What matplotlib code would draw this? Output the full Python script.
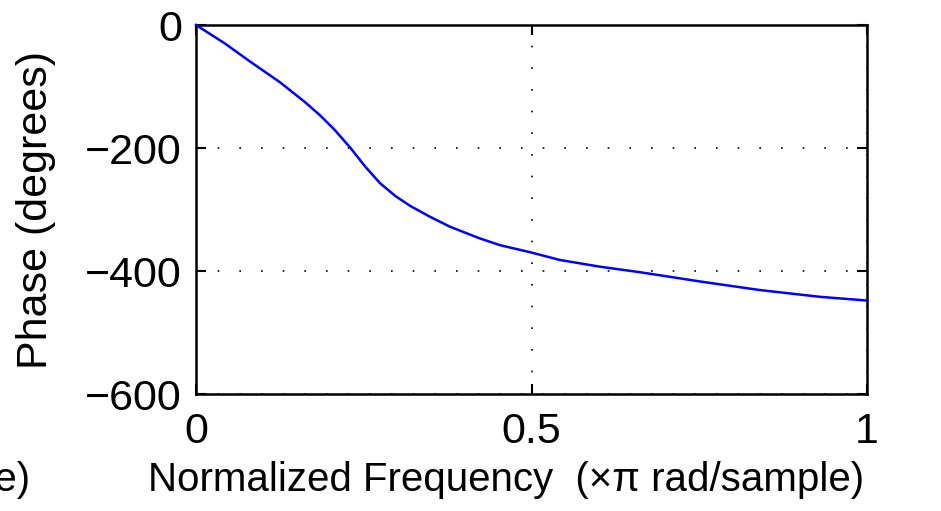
import matplotlib
matplotlib.use("Agg")
import matplotlib.pyplot as plt

plt.rcParams['font.family'] = ['Liberation Sans', 'DejaVu Sans']

# phase response
freq = [0, 0.043, 0.08, 0.125, 0.162, 0.185, 0.207, 0.2295, 0.252, 0.274,
        0.297, 0.319, 0.349, 0.3785, 0.423, 0.453, 0.5, 0.542, 0.602, 0.662,
        0.751, 0.8405, 0.93, 1.0]
phase = [0, -30, -59, -93, -125, -147, -171, -199, -230, -257,
         -278, -294, -312, -328, -347, -358, -370, -382, -393, -402,
         -417, -431, -442, -448]

xticks = [0, 0.5, 1]
yticks = [0, -200, -400, -600]
xlabel = "Normalized Frequency  (\u00d7\u03c0 rad/sample)"
ylabel = "Phase (degrees)"

fig = plt.figure(figsize=(9.41, 5.11), dpi=100)
ax = fig.add_axes([196/941, 1 - 394/511, (867 - 196)/941, (394 - 25)/511])

ax.plot(freq, phase, color=(0, 0, 1), linewidth=1.8, clip_on=False, zorder=3)

ax.set_xlim(0, 1)
ax.set_ylim(-600, 0)
ax.set_xticks(xticks)
ax.set_xticklabels(["0", "0.5", "1"])
ax.set_yticks(yticks)
ax.set_yticklabels(["0", "\u2212200", "\u2212400", "\u2212600"])

ax.grid(True, color='black', linestyle=(0, (1, 12)), linewidth=1.2)
ax.tick_params(direction='in', length=7, width=1.5, labelsize=31,
               top=True, right=True)
ax.tick_params(axis='x', pad=13)
ax.tick_params(axis='y', pad=10)
for s in ax.spines.values():
    s.set_linewidth(1.8)

ax.set_xlabel(xlabel, fontsize=29, va='center')
ax.xaxis.set_label_coords(0.462, (394 - 480) / 369)
ax.set_ylabel(ylabel, fontsize=31, va='center')
ax.yaxis.set_label_coords((36 - 196) / 671, 0.5)

# cut-off label from the neighbouring plot on the left
fig.text(30/941, 1 - 480/511, xlabel, fontsize=29, ha='right', va='center')

fig.savefig("out.png", dpi=100)
